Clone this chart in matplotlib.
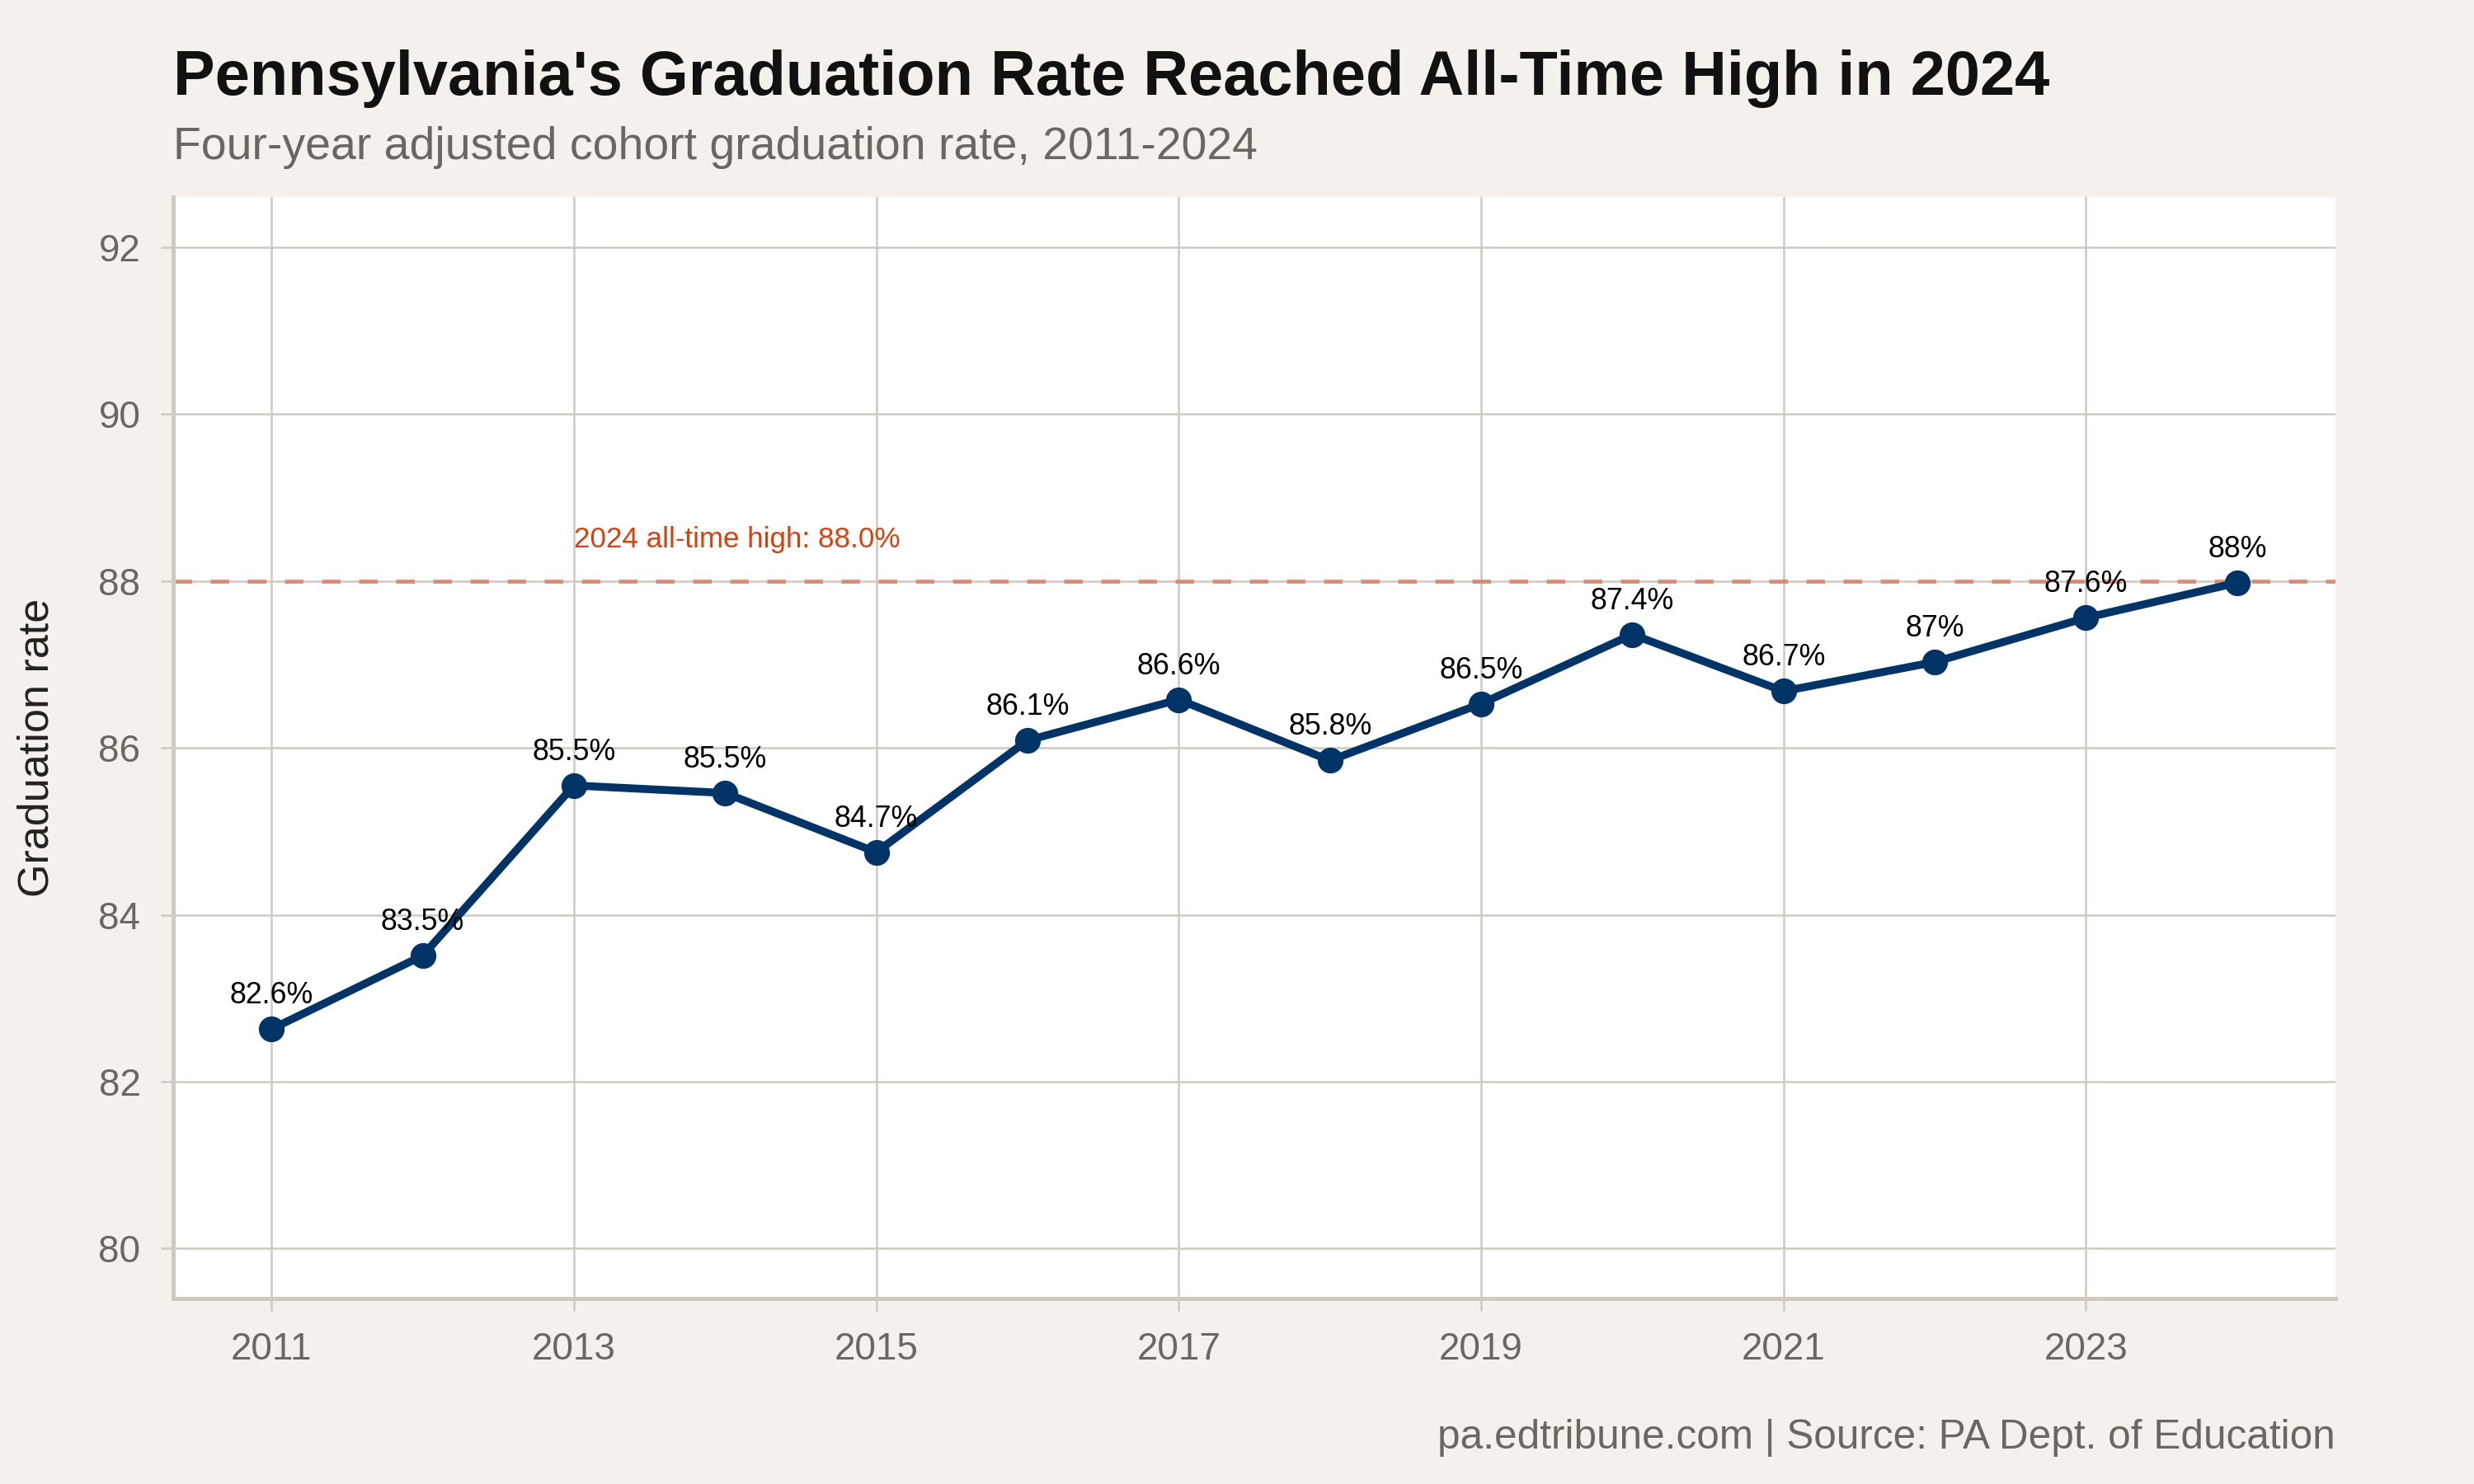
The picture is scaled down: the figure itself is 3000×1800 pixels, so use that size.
import matplotlib
matplotlib.use("Agg")
import matplotlib.pyplot as plt

# data
years = [2011, 2012, 2013, 2014, 2015, 2016, 2017, 2018, 2019, 2020, 2021, 2022, 2023, 2024]
rates = [82.63, 83.51, 85.55, 85.46, 84.75, 86.09, 86.58, 85.85, 86.53, 87.36, 86.68, 87.03, 87.56, 87.98]
point_labels = ["82.6%", "83.5%", "85.5%", "85.5%", "84.7%", "86.1%", "86.6%", "85.8%",
                "86.5%", "87.4%", "86.7%", "87%", "87.6%", "88%"]
high_value = 88.0
high_label = "2024 all-time high: 88.0%"
x_ticks = [2011, 2013, 2015, 2017, 2019, 2021, 2023]
y_ticks = [80, 82, 84, 86, 88, 90, 92]

BG = "#F4F1EC"
GRID = "#CFC9C0"
GRAY = "#6B6660"
NAVY = "#003366"
RED = "#D9400F"

plt.rcParams["font.family"] = ["Liberation Sans", "DejaVu Sans"]

fig = plt.figure(figsize=(10, 6), dpi=300, facecolor=BG)
ax = fig.add_axes([0.07, 0.125, 0.874, 0.742])
ax.set_facecolor("white")

ax.set_xlim(2010.35, 2024.65)
ax.set_ylim(79.4, 92.6)
ax.set_xticks(x_ticks)
ax.set_yticks(y_ticks)
ax.grid(True, color=GRID, linewidth=0.6)
ax.set_axisbelow(True)

for side in ["top", "right"]:
    ax.spines[side].set_visible(False)
for side in ["left", "bottom"]:
    ax.spines[side].set_color(GRID)
    ax.spines[side].set_linewidth(1.2)

ax.tick_params(axis="both", colors=GRID, length=3.5, width=0.6, labelsize=11,
               labelcolor=GRAY, pad=6)

# reference line for the record
ax.axhline(high_value, color="#E07A5F", alpha=0.8, linewidth=1.2, dashes=(4.5, 4.5), zorder=2)
ax.text(2013, high_value + 0.5, high_label, color=RED, fontsize=8.4, ha="left", va="center")

ax.plot(years, rates, color=NAVY, linewidth=2.3, marker="o", markersize=6.5, zorder=3)
for x, y, lab in zip(years, rates, point_labels):
    ax.text(x, y + 0.4, lab, fontsize=8.6, ha="center", va="center", color="black", zorder=4)

ax.set_ylabel("Graduation rate", fontsize=12.5, color="#222222", labelpad=12)

fig.text(0.07, 0.936, "Pennsylvania's Graduation Rate Reached All-Time High in 2024",
         fontsize=18.2, fontweight="bold", color="#111111", ha="left", va="baseline")
fig.text(0.07, 0.893, "Four-year adjusted cohort graduation rate, 2011-2024",
         fontsize=13.3, color=GRAY, ha="left", va="baseline")
fig.text(0.944, 0.024, "pa.edtribune.com | Source: PA Dept. of Education",
         fontsize=11.9, color=GRAY, ha="right", va="baseline")

fig.savefig("out.png", dpi=300, facecolor=BG)
